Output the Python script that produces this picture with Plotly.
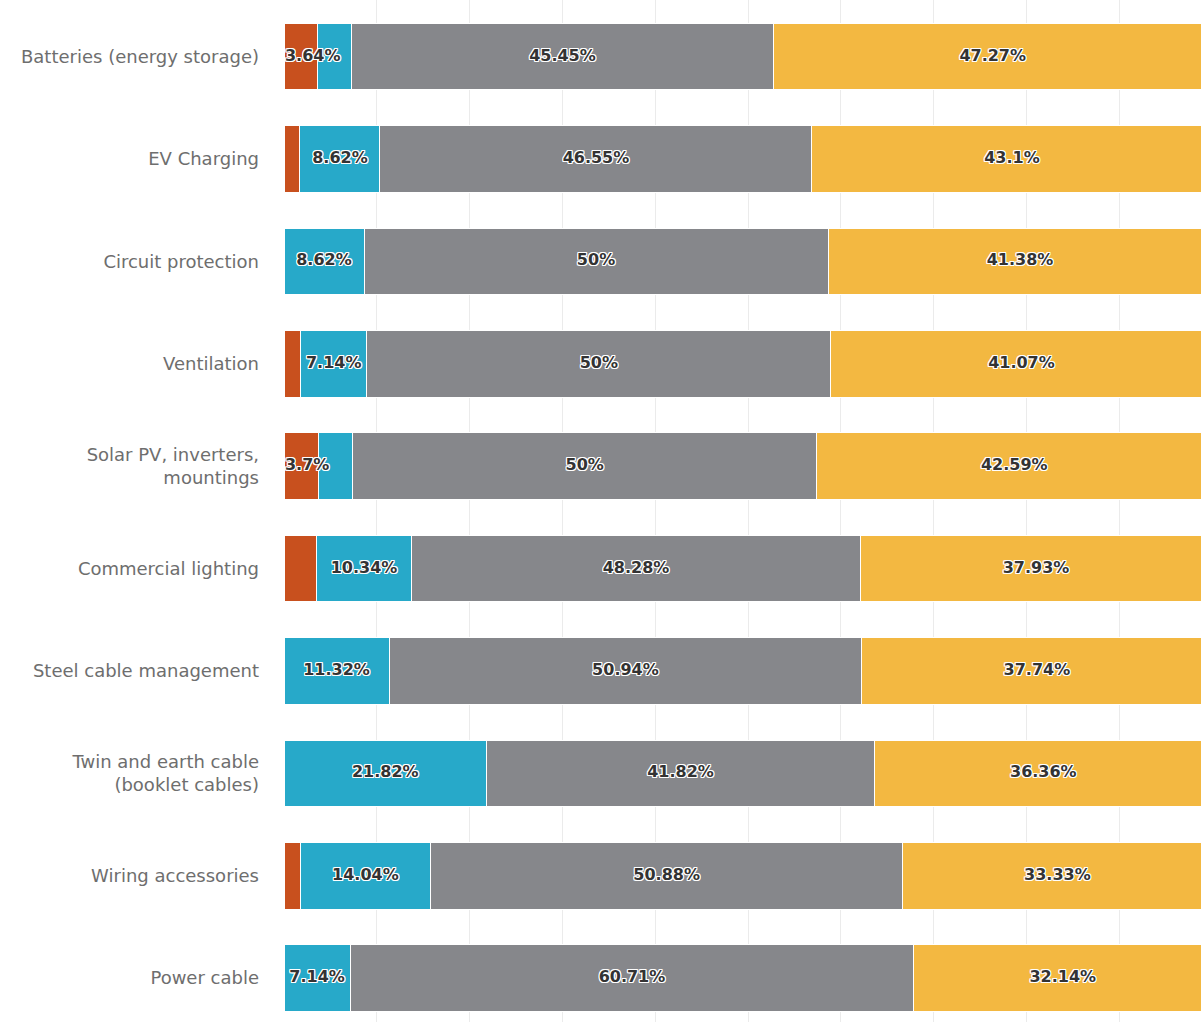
import plotly.graph_objects as go

# Categories, top to bottom
categories = [
    "Batteries (energy storage)",
    "EV Charging",
    "Circuit protection",
    "Ventilation",
    "Solar PV, inverters,<br>mountings",
    "Commercial lighting",
    "Steel cable management",
    "Twin and earth cable<br>(booklet cables)",
    "Wiring accessories",
    "Power cable",
]

# Share of responses (%) per series
orange_vals = [3.64, 1.72, 0, 1.79, 3.7, 3.45, 0, 0, 1.75, 0]
blue_vals = [3.64, 8.62, 8.62, 7.14, 3.7, 10.34, 11.32, 21.82, 14.04, 7.14]
gray_vals = [45.45, 46.55, 50, 50, 50, 48.28, 50.94, 41.82, 50.88, 60.71]
yellow_vals = [47.27, 43.1, 41.38, 41.07, 42.59, 37.93, 37.74, 36.36, 33.33, 32.14]

series = [
    ("Orange", orange_vals, "#C8501E"),
    ("Blue", blue_vals, "#27A9C9"),
    ("Gray", gray_vals, "#86878B"),
    ("Yellow", yellow_vals, "#F3B841"),
]

fig = go.Figure()

for name, vals, color in series:
    fig.add_trace(go.Bar(
        name=name, y=categories, x=vals, orientation="h",
        marker=dict(color=color, line=dict(color="#ffffff", width=1)),
        width=0.65, hoverinfo="x+y",
    ))

# Data labels: skip tiny segments and labels that would collide with the
# previous label in the same row; keep labels inside the plot on the left.
PX_PER_PCT = 9.28
CHAR_PX = 11.0
lab_x, lab_y, lab_t, lab_pos = [], [], [], []
for i, cat in enumerate(categories):
    start = 0.0
    prev_right = None
    for _, vals, _ in series:
        v = vals[i]
        if v >= 3.5:
            txt = f"{v:g}%"
            half = len(txt) * CHAR_PX / 2 / PX_PER_PCT
            center = start + v / 2
            left = max(center - half, 0.1)
            if prev_right is None or left > prev_right:
                if center - half < 0.1:
                    lab_x.append(0.1)
                    lab_pos.append("middle right")
                else:
                    lab_x.append(center)
                    lab_pos.append("middle center")
                lab_y.append(cat)
                lab_t.append(txt)
                prev_right = left + 2 * half
        start += v

outline = ("1px 1px 0 #fff, -1px -1px 0 #fff, 1px -1px 0 #fff, -1px 1px 0 #fff, "
           "0 1px 0 #fff, 0 -1px 0 #fff, 1px 0 0 #fff, -1px 0 0 #fff")
fig.add_trace(go.Scatter(
    x=lab_x, y=lab_y, text=lab_t, mode="text", textposition=lab_pos,
    textfont=dict(family="DejaVu Sans", size=16, color="#333333",
                  weight="bold", shadow=outline),
    hoverinfo="skip", showlegend=False, cliponaxis=False,
))

fig.update_layout(
    barmode="stack",
    width=1201, height=1022,
    margin=dict(l=284, r=0, t=0, b=0),
    paper_bgcolor="#ffffff", plot_bgcolor="#ffffff",
    showlegend=False,
    font=dict(family="DejaVu Sans", color="#6e6e6e"),
    xaxis=dict(range=[0, 98.81], dtick=10, showticklabels=False,
               gridcolor="#ebebeb", gridwidth=1, zeroline=False,
               showline=False, fixedrange=True),
    yaxis=dict(categoryorder="array", categoryarray=categories,
               range=[9.428, -0.552], showgrid=False, zeroline=False,
               ticks="", ticklabelstandoff=24,
               tickfont=dict(family="DejaVu Sans", size=18, color="#6e6e6e"),
               fixedrange=True),
)

fig.write_html("out.html")
